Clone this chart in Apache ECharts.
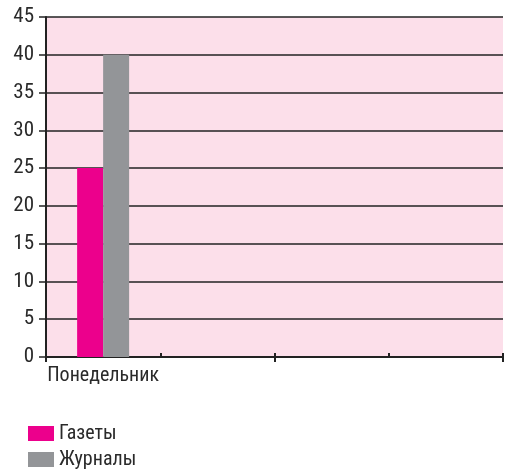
<!DOCTYPE html>
<html><head><meta charset="utf-8">
<script src="https://cdn.jsdelivr.net/npm/echarts@6/dist/echarts.min.js"></script>
<style>html,body{margin:0;padding:0;background:#fff}#c{width:509px;height:475px}</style>
</head><body><div id="c"></div>
<script>
var categories = ['Понедельник', '', '', ''];
var gazety = [25, null, null, null];
var zhurnaly = [40, null, null, null];
var yTicks = {min: 0, max: 45, interval: 5};

var FONT = '"Liberation Sans Narrow", "Roboto Condensed", "Liberation Sans", sans-serif';
var chart = echarts.init(document.getElementById('c'), null, {renderer: 'canvas'});
chart.setOption({
  animation: false,
  textStyle: {fontFamily: FONT},
  grid: {left: 46, right: 6, top: 17, bottom: 118, show: true, backgroundColor: '#fcdfea', borderWidth: 0},
  legend: {
    orient: 'vertical', left: 28, top: 423, height: 60, padding: 0, itemWidth: 26, itemHeight: 15, itemGap: 5,
    icon: 'rect',
    textStyle: {fontFamily: FONT, fontSize: 20, color: '#2a2a2a', lineHeight: 21},
    data: ['Газеты', 'Журналы']
  },
  xAxis: [{
    type: 'category', data: categories,
    axisLine: {lineStyle: {color: '#222', width: 2}},
    axisTick: {show: true, length: 5, lineStyle: {color: '#222', width: 2}},
    axisLabel: {fontFamily: FONT, fontSize: 20, color: '#2a2a2a', margin: 9},
    splitLine: {show: false}
  }, {
    type: 'category', data: categories, position: 'bottom',
    axisLine: {show: false},
    axisTick: {show: true, inside: true, length: 4, lineStyle: {color: '#222', width: 2}},
    axisLabel: {show: false}
  }],
  yAxis: {
    type: 'value', min: yTicks.min, max: yTicks.max, interval: yTicks.interval,
    axisLine: {show: true, lineStyle: {color: '#222', width: 2}},
    axisTick: {show: true, length: 7, lineStyle: {color: '#222', width: 1.5}},
    axisLabel: {fontFamily: FONT, fontSize: 21, color: '#2a2a2a', margin: 12},
    splitLine: {show: true, lineStyle: {color: '#222', width: 1.5}}
  },
  series: [
    {name: 'Газеты', type: 'bar', data: gazety, barWidth: 26, barGap: '0%', itemStyle: {color: '#ec008c'}},
    {name: 'Журналы', type: 'bar', data: zhurnaly, barWidth: 26, barGap: '0%', itemStyle: {color: '#939598'}}
  ]
});
</script></body></html>
